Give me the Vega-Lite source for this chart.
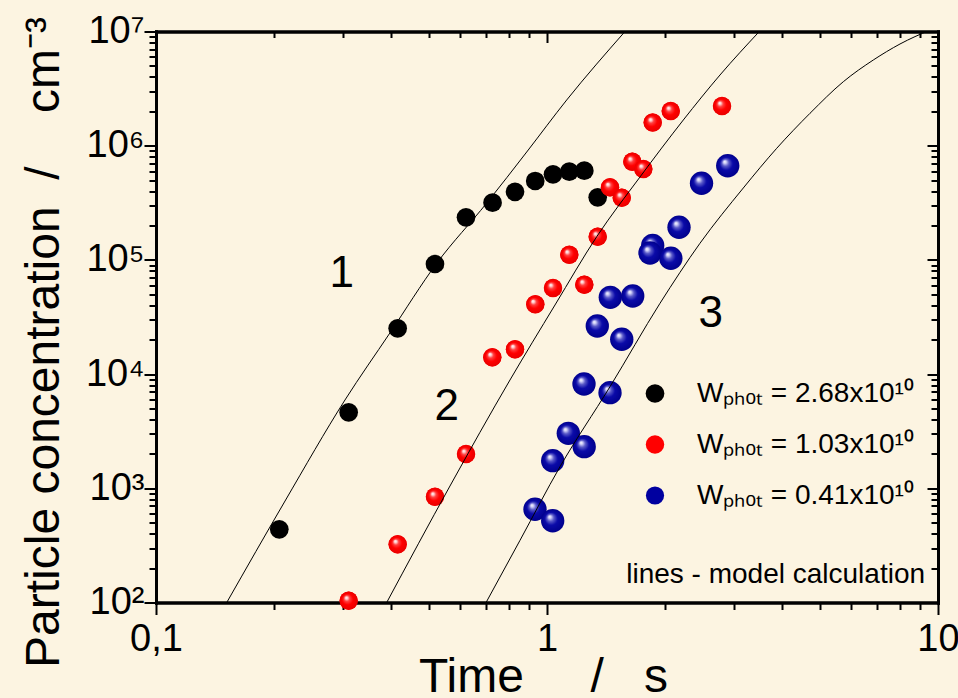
{
  "$schema": "https://vega.github.io/schema/vega-lite/v6.json",
  "width": 782,
  "height": 571,
  "autosize": {"type": "none"},
  "padding": {"left": 156, "top": 31.5, "right": 20, "bottom": 95.5},
  "background": "#fcf4e1",
  "config": {
    "view": {"stroke": null},
    "font": "Liberation Sans",
    "axis": {
      "grid": false,
      "domainColor": "#000000",
      "domainWidth": 3,
      "domainCap": "square",
      "tickColor": "#000000",
      "tickWidth": 2,
      "labelColor": "#000000",
      "titleColor": "#000000",
      "labelFont": "Liberation Sans",
      "titleFont": "Liberation Sans",
      "titleFontWeight": "normal"
    },
    "legend": {"labelFont": "Liberation Sans", "labelColor": "#000000"}
  },
  "datasets": {
    "points": [
      {"series": "2.68", "t": 0.2067, "c": 437.5},
      {"series": "2.68", "t": 0.311, "c": 4630},
      {"series": "2.68", "t": 0.415, "c": 25180},
      {"series": "2.68", "t": 0.517, "c": 92080},
      {"series": "2.68", "t": 0.6207, "c": 236000},
      {"series": "2.68", "t": 0.7257, "c": 316900},
      {"series": "2.68", "t": 0.8283, "c": 394700},
      {"series": "2.68", "t": 0.9329, "c": 490900},
      {"series": "2.68", "t": 1.036, "c": 561800},
      {"series": "2.68", "t": 1.1404, "c": 592000},
      {"series": "2.68", "t": 1.2457, "c": 604000},
      {"series": "2.68", "t": 1.3479, "c": 353400},
      {"series": "1.03", "t": 0.311, "c": 103.7},
      {"series": "1.03", "t": 0.415, "c": 323.3},
      {"series": "1.03", "t": 0.517, "c": 844},
      {"series": "1.03", "t": 0.6207, "c": 1997},
      {"series": "1.03", "t": 0.7246, "c": 14030},
      {"series": "1.03", "t": 0.8283, "c": 16490},
      {"series": "1.03", "t": 0.9334, "c": 40860},
      {"series": "1.03", "t": 1.036, "c": 56750},
      {"series": "1.03", "t": 1.1404, "c": 111000},
      {"series": "1.03", "t": 1.2457, "c": 60650},
      {"series": "1.03", "t": 1.3479, "c": 159700},
      {"series": "1.03", "t": 1.4493, "c": 432200},
      {"series": "1.03", "t": 1.553, "c": 350500},
      {"series": "1.03", "t": 1.6528, "c": 724200},
      {"series": "1.03", "t": 1.7634, "c": 625200},
      {"series": "1.03", "t": 1.8634, "c": 1597000},
      {"series": "1.03", "t": 2.0724, "c": 2013000},
      {"series": "1.03", "t": 2.8029, "c": 2226000},
      {"series": "0.41", "t": 0.9318, "c": 655},
      {"series": "0.41", "t": 1.0341, "c": 520.3},
      {"series": "0.41", "t": 1.0341, "c": 1745},
      {"series": "0.41", "t": 1.1337, "c": 3031},
      {"series": "0.41", "t": 1.2449, "c": 2314},
      {"series": "0.41", "t": 1.2435, "c": 8191},
      {"series": "0.41", "t": 1.4493, "c": 6874},
      {"series": "0.41", "t": 1.3447, "c": 26380},
      {"series": "0.41", "t": 1.553, "c": 20210},
      {"series": "0.41", "t": 1.4519, "c": 47040},
      {"series": "0.41", "t": 1.6567, "c": 48300},
      {"series": "0.41", "t": 1.8634, "c": 133700},
      {"series": "0.41", "t": 1.8341, "c": 114900},
      {"series": "0.41", "t": 2.0736, "c": 103300},
      {"series": "0.41", "t": 2.176, "c": 193000},
      {"series": "0.41", "t": 2.4843, "c": 468800},
      {"series": "0.41", "t": 2.8989, "c": 668100}
    ],
    "model": [
      {"curve": "1", "t": 0.1517, "c": 100},
      {"curve": "1", "t": 0.2138, "c": 774},
      {"curve": "1", "t": 0.3043, "c": 5933},
      {"curve": "1", "t": 0.3968, "c": 23000},
      {"curve": "1", "t": 0.5223, "c": 93370},
      {"curve": "1", "t": 0.7014, "c": 314900},
      {"curve": "1", "t": 0.8873, "c": 880600},
      {"curve": "1", "t": 1.123, "c": 2513000},
      {"curve": "1", "t": 1.583, "c": 10000000},
      {"curve": "2", "t": 0.3891, "c": 100},
      {"curve": "2", "t": 0.5647, "c": 1047},
      {"curve": "2", "t": 0.8041, "c": 8878},
      {"curve": "2", "t": 1.0482, "c": 40290},
      {"curve": "2", "t": 1.3402, "c": 159700},
      {"curve": "2", "t": 1.7291, "c": 531900},
      {"curve": "2", "t": 2.2317, "c": 1679000},
      {"curve": "2", "t": 2.7696, "c": 4159000},
      {"curve": "2", "t": 3.4918, "c": 10000000},
      {"curve": "3", "t": 0.6985, "c": 100},
      {"curve": "3", "t": 0.8531, "c": 350.6},
      {"curve": "3", "t": 1.0796, "c": 1546},
      {"curve": "3", "t": 1.4493, "c": 7758},
      {"curve": "3", "t": 1.9454, "c": 41690},
      {"curve": "3", "t": 2.4616, "c": 139800},
      {"curve": "3", "t": 3.1772, "c": 426200},
      {"curve": "3", "t": 3.8682, "c": 948900},
      {"curve": "3", "t": 4.706, "c": 1922000},
      {"curve": "3", "t": 5.7259, "c": 3634000},
      {"curve": "3", "t": 6.8313, "c": 5628000},
      {"curve": "3", "t": 7.995, "c": 7773000},
      {"curve": "3", "t": 9.54, "c": 10300000}
    ],
    "curveLabels": [
      {"label": "1", "t": 0.2985, "c": 58270},
      {"label": "2", "t": 0.5539, "c": 3963},
      {"label": "3", "t": 2.6225, "c": 26010}
    ],
    "note": [
      {"label": "lines - model calculation", "t": 9.265, "c": 148}
    ]
  },
  "layer": [
    {
      "data": {"name": "points"},
      "mark": {"type": "point", "filled": true, "opacity": 1, "strokeWidth": 0},
      "encoding": {
        "x": {
          "field": "t", "type": "quantitative",
          "scale": {"type": "log", "domain": [0.1, 10], "nice": false},
          "axis": {
            "orient": "bottom", "values": [0.1, 1, 10], "tickSize": 12,
            "labelFontSize": 38, "labelPadding": 35.5, "labelBaseline": "alphabetic",
            "labelFlush": false, "labelOverlap": false,
            "labelExpr": "datum.value < 0.5 ? '0,1' : (datum.value < 5 ? '1' : '10')",
            "title": "Time\u00a0\u00a0\u00a0\u00a0\u00a0/\u00a0\u00a0\u00a0s",
            "titleFontSize": 48, "titleX": 387, "titleY": 89, "titleAlign": "center", "titleBaseline": "alphabetic"
          }
        },
        "y": {
          "field": "c", "type": "quantitative",
          "scale": {"type": "log", "domain": [100, 10000000], "nice": false},
          "axis": {
            "orient": "left", "values": [100, 1000, 10000, 100000, 1000000, 10000000], "tickSize": 12,
            "labelFontSize": 38, "labelPadding": 0, "labelFlush": false, "labelOverlap": false,
            "labelExpr": "'10' + ['\u2070','\u00b9','\u00b2','\u00b3','\u2074','\u2075','\u2076','\u2077'][round(log(datum.value)/LN10)]",
            "title": "Particle concentration\u00a0\u00a0/\u00a0\u00a0\u00a0\u00a0cm\u207b\u00b3",
            "titleFontSize": 48, "titleX": -98, "titleY": 310.5, "titleAngle": 270, "titleAlign": "center", "titleBaseline": "alphabetic"
          }
        },
        "color": {
          "field": "series", "type": "nominal",
          "scale": {"domain": ["2.68", "1.03", "0.41"], "range": ["#000000", "#ff0000", "#0000a0"]},
          "legend": {
            "orient": "none", "legendX": 485, "legendY": 348, "title": null, "padding": 0,
            "labelFontSize": 28, "labelOffset": 28, "rowPadding": 23, "labelLimit": 0,
            "labelExpr": "'W\u209a\u2095\u2092\u209c = ' + datum.label + 'x10\u00b9\u2070'"
          }
        },
        "size": {
          "field": "series", "type": "nominal",
          "scale": {"domain": ["2.68", "1.03", "0.41"], "range": [350, 330, 545]},
          "legend": {
            "orient": "none", "legendX": 485, "legendY": 348, "title": null, "padding": 0,
            "labelFontSize": 28, "labelOffset": 28, "rowPadding": 23, "labelLimit": 0,
            "labelExpr": "'W\u209a\u2095\u2092\u209c = ' + datum.label + 'x10\u00b9\u2070'"
          }
        }
      }
    },
    {
      "data": {"name": "points"},
      "transform": [{"filter": "datum.series == '1.03'"}],
      "mark": {"type": "point", "filled": true, "opacity": 1, "strokeWidth": 0, "size": 330,
        "fill": {"gradient": "radial", "x1": 0.36, "y1": 0.32, "r1": 0, "x2": 0.5, "y2": 0.5, "r2": 0.5,
          "stops": [{"offset": 0, "color": "#ffffff"}, {"offset": 0.14, "color": "#ffd0d0"}, {"offset": 0.32, "color": "#ff4040"}, {"offset": 0.6, "color": "#ff0000"}, {"offset": 1, "color": "#e80000"}]}},
      "encoding": {
        "x": {"field": "t", "type": "quantitative", "scale": {"type": "log", "domain": [0.1, 10], "nice": false}, "axis": null},
        "y": {"field": "c", "type": "quantitative", "scale": {"type": "log", "domain": [100, 10000000], "nice": false}, "axis": null}
      }
    },
    {
      "data": {"name": "points"},
      "transform": [{"filter": "datum.series == '0.41'"}],
      "mark": {"type": "point", "filled": true, "opacity": 1, "strokeWidth": 0, "size": 545,
        "fill": {"gradient": "radial", "x1": 0.36, "y1": 0.32, "r1": 0, "x2": 0.5, "y2": 0.5, "r2": 0.5,
          "stops": [{"offset": 0, "color": "#ffffff"}, {"offset": 0.12, "color": "#d0d0f8"}, {"offset": 0.3, "color": "#5a5ac8"}, {"offset": 0.55, "color": "#0a0aa8"}, {"offset": 1, "color": "#00008c"}]}},
      "encoding": {
        "x": {"field": "t", "type": "quantitative", "scale": {"type": "log", "domain": [0.1, 10], "nice": false}, "axis": null},
        "y": {"field": "c", "type": "quantitative", "scale": {"type": "log", "domain": [100, 10000000], "nice": false}, "axis": null}
      }
    },
    {
      "data": {"name": "model"},
      "mark": {"type": "line", "color": "#000000", "strokeWidth": 1, "interpolate": "monotone", "clip": true},
      "encoding": {
        "x": {
          "field": "t", "type": "quantitative",
          "scale": {"type": "log", "domain": [0.1, 10], "nice": false},
          "axis": {"orient": "bottom", "values": [0.2, 0.3, 0.4, 0.5, 0.6, 0.7, 0.8, 0.9, 2, 3, 4, 5, 6, 7, 8, 9], "tickSize": 7, "labels": false, "title": null}
        },
        "y": {
          "field": "c", "type": "quantitative",
          "scale": {"type": "log", "domain": [100, 10000000], "nice": false},
          "axis": {"orient": "left", "values": [200, 300, 400, 500, 600, 700, 800, 900, 2000, 3000, 4000, 5000, 6000, 7000, 8000, 9000, 20000, 30000, 40000, 50000, 60000, 70000, 80000, 90000, 200000, 300000, 400000, 500000, 600000, 700000, 800000, 900000, 2000000, 3000000, 4000000, 5000000, 6000000, 7000000, 8000000, 9000000], "tickSize": 7, "labels": false, "title": null}
        },
        "detail": {"field": "curve", "type": "nominal"}
      }
    },
    {
      "data": {"name": "curveLabels"},
      "mark": {"type": "text", "fontSize": 44, "align": "center", "baseline": "alphabetic", "color": "#000000", "font": "Liberation Sans"},
      "encoding": {
        "x": {
          "field": "t", "type": "quantitative",
          "scale": {"type": "log", "domain": [0.1, 10], "nice": false},
          "axis": {"orient": "top", "values": [0.1, 1, 10], "tickSize": -11, "labels": false, "title": null}
        },
        "y": {
          "field": "c", "type": "quantitative",
          "scale": {"type": "log", "domain": [100, 10000000], "nice": false},
          "axis": {"orient": "right", "values": [100, 1000, 10000, 100000, 1000000, 10000000], "tickSize": -11, "labels": false, "title": null}
        },
        "text": {"field": "label", "type": "nominal"}
      }
    },
    {
      "data": {"name": "note"},
      "mark": {"type": "text", "fontSize": 28, "align": "right", "baseline": "alphabetic", "color": "#000000", "font": "Liberation Sans"},
      "encoding": {
        "x": {
          "field": "t", "type": "quantitative",
          "scale": {"type": "log", "domain": [0.1, 10], "nice": false},
          "axis": {"orient": "top", "values": [0.2, 0.3, 0.4, 0.5, 0.6, 0.7, 0.8, 0.9, 2, 3, 4, 5, 6, 7, 8, 9], "tickSize": -6, "labels": false, "title": null}
        },
        "y": {
          "field": "c", "type": "quantitative",
          "scale": {"type": "log", "domain": [100, 10000000], "nice": false},
          "axis": {"orient": "right", "values": [200, 300, 400, 500, 600, 700, 800, 900, 2000, 3000, 4000, 5000, 6000, 7000, 8000, 9000, 20000, 30000, 40000, 50000, 60000, 70000, 80000, 90000, 200000, 300000, 400000, 500000, 600000, 700000, 800000, 900000, 2000000, 3000000, 4000000, 5000000, 6000000, 7000000, 8000000, 9000000], "tickSize": -7, "labels": false, "title": null}
        },
        "text": {"field": "label", "type": "nominal"}
      }
    }
  ],
  "resolve": {"axis": {"x": "independent", "y": "independent"}}
}
